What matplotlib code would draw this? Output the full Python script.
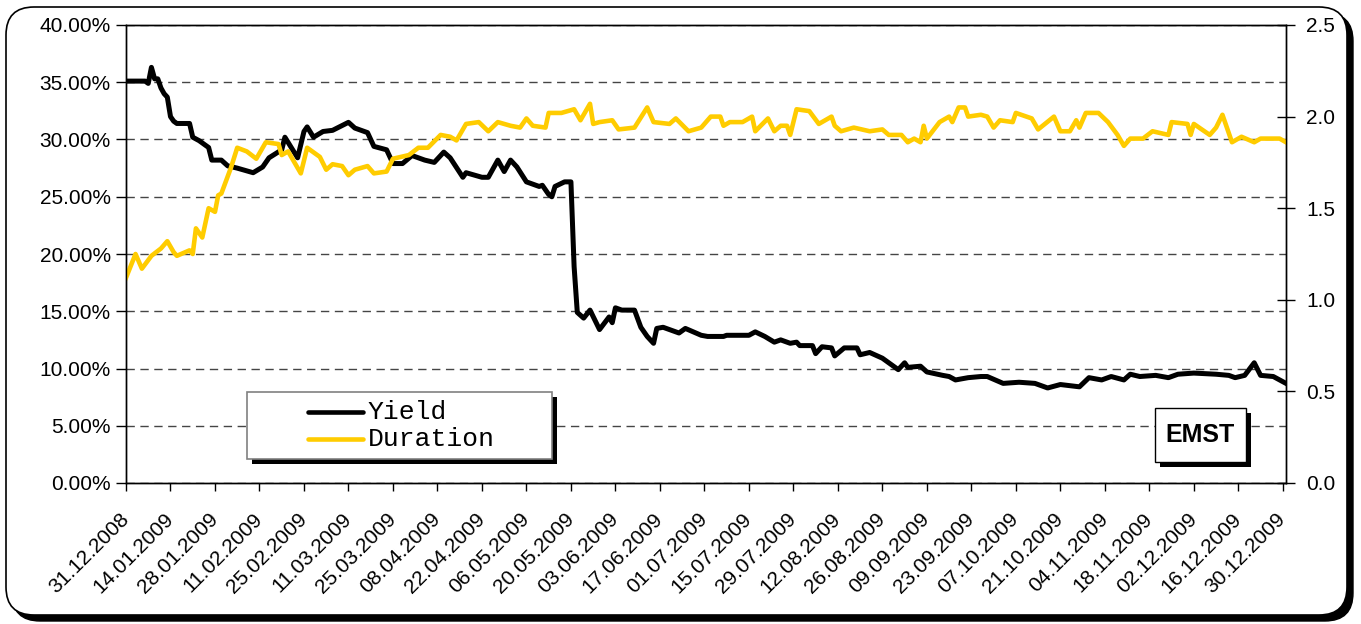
import numpy as np
import pandas as pd
import matplotlib
matplotlib.use("Agg")
import matplotlib.pyplot as plt
from matplotlib.patches import FancyBboxPatch, Rectangle
from matplotlib.lines import Line2D
from matplotlib.transforms import IdentityTransform, ScaledTranslation
from matplotlib.ticker import FuncFormatter

plt.rcParams['font.family'] = ['Liberation Sans', 'DejaVu Sans']

# === DONNÉES (jours depuis le 31.12.2008) ===
start = pd.Timestamp("2008-12-31")

yield_days = [0, 6, 7, 8, 9, 10, 11, 12, 13, 14, 15, 16, 20, 21, 23, 26, 27, 30, 32, 35,
              40, 43, 45, 49, 50, 54, 56, 57, 59, 62, 65, 70, 72, 76, 78, 82, 84, 87, 90, 94,
              97, 100, 102, 106, 107, 112, 114, 117, 119, 121, 123, 126, 130, 131, 133, 134, 135, 138, 140, 141,
              142, 144, 146, 149, 152, 153, 154, 156, 160, 162, 164, 166, 167, 169, 174, 176, 181, 183, 188, 189,
              196, 198, 201, 204, 206, 209, 211, 212, 216, 217, 219, 222, 223, 226, 230, 231, 234, 238, 243, 245,
              246, 250, 252, 257, 259, 261, 265, 269, 271, 276, 281, 286, 290, 294, 300, 303, 307, 310, 314, 316,
              319, 324, 328, 331, 336, 343, 347, 349, 352, 355, 357, 361, 365]
yield_pct = [35.1, 35.1, 34.9, 36.3, 35.3, 35.3, 34.5, 34.0, 33.7, 32.0, 31.6, 31.4, 31.4, 30.2, 29.9, 29.3, 28.2, 28.2, 27.7, 27.5,
             27.1, 27.6, 28.4, 29.1, 30.2, 28.4, 30.7, 31.1, 30.2, 30.7, 30.8, 31.5, 31.0, 30.6, 29.4, 29.1, 27.9, 27.9, 28.6, 28.2,
             28.0, 28.9, 28.4, 26.7, 27.1, 26.7, 26.7, 28.2, 27.2, 28.2, 27.6, 26.3, 25.9, 26.0, 25.2, 25.0, 25.9, 26.3, 26.3, 18.9,
             14.9, 14.4, 15.1, 13.4, 14.5, 14.0, 15.3, 15.1, 15.1, 13.6, 12.8, 12.2, 13.5, 13.6, 13.1, 13.5, 12.9, 12.8, 12.8, 12.9,
             12.9, 13.2, 12.8, 12.3, 12.5, 12.2, 12.3, 12.0, 12.0, 11.3, 11.9, 11.8, 11.1, 11.8, 11.8, 11.2, 11.4, 10.9, 9.9, 10.5,
             10.1, 10.2, 9.7, 9.4, 9.3, 9.0, 9.2, 9.3, 9.3, 8.7, 8.8, 8.7, 8.3, 8.6, 8.4, 9.2, 9.0, 9.3, 9.0, 9.5,
             9.3, 9.4, 9.2, 9.5, 9.6, 9.5, 9.4, 9.2, 9.4, 10.5, 9.4, 9.3, 8.7]

dur_days = [0, 3, 5, 8, 11, 13, 15, 16, 20, 21, 22, 24, 26, 28, 29, 30, 33, 35, 38, 41,
            44, 48, 49, 51, 55, 57, 61, 63, 65, 68, 70, 72, 76, 78, 82, 84, 89, 92, 95, 99,
            102, 104, 107, 111, 114, 117, 121, 124, 126, 128, 132, 133, 137, 141, 143, 146, 147, 149, 153, 155,
            160, 164, 166, 171, 173, 177, 181, 184, 187, 188, 190, 194, 197, 198, 202, 204, 206, 208, 209, 211,
            215, 218, 222, 223, 225, 229, 234, 238, 240, 244, 246, 248, 250, 251, 252, 256, 259, 260, 262, 264,
            265, 269, 271, 273, 275, 279, 280, 285, 287, 292, 294, 297, 299, 300, 302, 306, 309, 312, 314, 316,
            320, 323, 328, 329, 334, 335, 336, 341, 343, 345, 348, 351, 355, 357, 363, 365]
duration = [1.12, 1.25, 1.17, 1.24, 1.28, 1.32, 1.26, 1.24, 1.27, 1.25, 1.39, 1.34, 1.50, 1.48, 1.57, 1.58, 1.72, 1.83, 1.81, 1.77,
            1.86, 1.85, 1.79, 1.81, 1.69, 1.83, 1.78, 1.71, 1.74, 1.73, 1.68, 1.71, 1.73, 1.69, 1.70, 1.77, 1.79, 1.83, 1.83, 1.90,
            1.89, 1.87, 1.96, 1.97, 1.92, 1.97, 1.95, 1.94, 1.99, 1.95, 1.94, 2.02, 2.02, 2.04, 1.98, 2.07, 1.96, 1.97, 1.98, 1.93,
            1.94, 2.05, 1.97, 1.96, 1.99, 1.92, 1.94, 2.00, 2.00, 1.95, 1.97, 1.97, 2.00, 1.92, 1.99, 1.92, 1.95, 1.95, 1.90, 2.04,
            2.03, 1.96, 2.00, 1.95, 1.92, 1.94, 1.92, 1.93, 1.90, 1.90, 1.86, 1.88, 1.86, 1.95, 1.88, 1.97, 2.00, 1.97, 2.05, 2.05,
            2.00, 2.01, 2.00, 1.94, 1.98, 1.97, 2.02, 1.99, 1.93, 2.00, 1.92, 1.92, 1.98, 1.94, 2.02, 2.02, 1.97, 1.90, 1.84, 1.88,
            1.88, 1.92, 1.90, 1.97, 1.96, 1.90, 1.96, 1.90, 1.94, 2.01, 1.86, 1.89, 1.86, 1.88, 1.88, 1.86]

yield_dates = start + pd.to_timedelta(yield_days, unit="D")
dur_dates = start + pd.to_timedelta(dur_days, unit="D")
tick_dates = pd.date_range(start, periods=27, freq="14D")
tick_labels = [d.strftime("%d.%m.%Y") for d in tick_dates]

YIELD_COLOR = "black"
DUR_COLOR = "#FFCC00"

# === FIGURE ===
W, H = 1361, 624
fig = plt.figure(figsize=(W / 100, H / 100), dpi=100)

# cadre arrondi avec ombre (en pixels)
shadow = FancyBboxPatch((12, 3), 1341, 608, boxstyle="round,pad=0,rounding_size=28",
                        transform=IdentityTransform(), facecolor="black", edgecolor="black", zorder=-2)
frame = FancyBboxPatch((6, 9), 1341, 608, boxstyle="round,pad=0,rounding_size=28",
                       transform=IdentityTransform(), facecolor="white", edgecolor="black",
                       linewidth=1.2, zorder=-1)
fig.add_artist(shadow)
fig.add_artist(frame)

x0, x1, y0, y1 = 126, 1286, 25, 483
ax = fig.add_axes([x0 / W, 1 - y1 / H, (x1 - x0) / W, (y1 - y0) / H])
ax.set_facecolor("none")
ax2 = ax.twinx()

ax.plot(yield_dates, yield_pct, color=YIELD_COLOR, linewidth=3.6, solid_joinstyle="round")
ax2.plot(dur_dates, duration, color=DUR_COLOR, linewidth=3.3, solid_joinstyle="round")

ax.set_xlim(start, start + pd.Timedelta(days=365))
ax.set_ylim(0, 40)
ax2.set_ylim(0, 2.5)
ax.set_yticks(np.arange(0, 40.1, 5))
ax2.set_yticks(np.arange(0, 2.51, 0.5))
ax.yaxis.set_major_formatter(FuncFormatter(lambda v, p: f"{v:.2f}%"))
ax2.yaxis.set_major_formatter(FuncFormatter(lambda v, p: f"{v:.1f}"))

ax.set_xticks(tick_dates)
ax.set_xticklabels(tick_labels, rotation=45, ha="right", rotation_mode="anchor", va="center")
shift = ScaledTranslation(-0.11, 0, fig.dpi_scale_trans)
for lab in ax.get_xticklabels():
    lab.set_transform(lab.get_transform() + shift)

ax.yaxis.grid(True, linestyle=(0, (6, 4)), color="#454545", linewidth=1.0)
ax.set_axisbelow(True)

for a in (ax, ax2):
    for s in a.spines.values():
        s.set_linewidth(1.0)
        s.set_color("black")

ax.tick_params(axis="y", direction="out", length=7, width=1, labelsize=15, pad=4)
ax.tick_params(axis="x", direction="out", length=6, width=1, labelsize=15, pad=18)
ax2.tick_params(axis="y", direction="inout", length=13, width=1, labelsize=15, pad=8)

# === LÉGENDE (dessinée à la main façon Excel) ===
sx, sy = 5 / (x1 - x0), 5 / (y1 - y0)
lx, ly, lw_, lh = 0.1043, 0.0524, 0.2629, 0.1463
ax2.add_patch(Rectangle((lx + sx, ly - sy), lw_, lh, transform=ax2.transAxes,
                        facecolor="black", edgecolor="none", zorder=5, clip_on=False))
ax2.add_patch(Rectangle((lx, ly), lw_, lh, transform=ax2.transAxes,
                        facecolor="white", edgecolor="#808080", linewidth=1.2, zorder=6, clip_on=False))
for ypos, col, lab in [(0.155, YIELD_COLOR, "Yield"), (0.097, DUR_COLOR, "Duration")]:
    ax2.add_line(Line2D([0.1569, 0.2043], [ypos, ypos], transform=ax2.transAxes,
                        color=col, linewidth=3.3, solid_capstyle="round", zorder=7))
    ax2.text(0.2086, ypos, lab, transform=ax2.transAxes, family=["Liberation Mono", "DejaVu Sans Mono"],
             fontsize=19, va="center", ha="left", zorder=7)

# === ÉTIQUETTE EMST ===
ex, ey, ew, eh = 0.887, 0.0459, 0.0785, 0.1179
ax2.add_patch(Rectangle((ex + sx, ey - sy), ew, eh, transform=ax2.transAxes,
                        facecolor="black", edgecolor="none", zorder=5, clip_on=False))
ax2.add_patch(Rectangle((ex, ey), ew, eh, transform=ax2.transAxes,
                        facecolor="white", edgecolor="black", linewidth=1.0, zorder=6, clip_on=False))
ax2.text(ex + ew / 2, ey + eh / 2, "EMST", transform=ax2.transAxes, fontsize=18,
         fontweight="bold", ha="center", va="center", zorder=7)

fig.savefig("out.png", dpi=100)
